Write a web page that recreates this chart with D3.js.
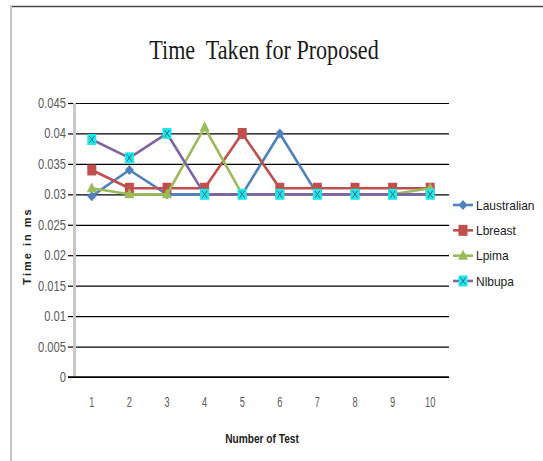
<!DOCTYPE html>
<html>
<head>
<meta charset="utf-8">
<script src="https://cdn.jsdelivr.net/npm/d3@7"></script>
<style>
  html, body { margin: 0; padding: 0; background: #fff; }
  svg { display: block; }
  text { white-space: pre; }
</style>
</head>
<body>
<svg id="chart" width="543" height="461"></svg>
<script>
// Test numbers along the x axis
const tests = [1, 2, 3, 4, 5, 6, 7, 8, 9, 10];

// Time taken (ms) per dataset
const laustralian = [0.0297, 0.034, 0.03, 0.03, 0.03, 0.04, 0.03, 0.03, 0.03, 0.03];
const lbreast     = [0.034, 0.031, 0.031, 0.031, 0.04, 0.031, 0.031, 0.031, 0.031, 0.031];
const lpima       = [0.031, 0.03, 0.03, 0.041, 0.03, 0.03, 0.03, 0.03, 0.03, 0.031];
const nlbupa      = [0.039, 0.036, 0.04, 0.03, 0.03, 0.03, 0.03, 0.03, 0.03, 0.03];

const seriesNames = ["Laustralian", "Lbreast", "Lpima", "Nlbupa"];
const yTicks = [0, 0.005, 0.01, 0.015, 0.02, 0.025, 0.03, 0.035, 0.04, 0.045];
const yTickLabels = ["0", "0.005", "0.01", "0.015", "0.02", "0.025", "0.03", "0.035", "0.04", "0.045"];

const series = [
  { name: seriesNames[0], values: laustralian, line: "#4F81BD", marker: "diamond" },
  { name: seriesNames[1], values: lbreast,     line: "#C0504D", marker: "square" },
  { name: seriesNames[2], values: lpima,       line: "#9BBB59", marker: "triangle" },
  { name: seriesNames[3], values: nlbupa,      line: "#8064A2", marker: "xbox" }
];

const svg = d3.select("#chart");

// outer frame edges
svg.append("line").attr("x1", 10).attr("x2", 543).attr("y1", 6.5).attr("y2", 6.5)
  .attr("stroke", "#4a4a4a").attr("stroke-width", 1.5);
svg.append("line").attr("x1", 11).attr("x2", 11).attr("y1", 6).attr("y2", 461)
  .attr("stroke", "#c4c4c4").attr("stroke-width", 2);

const plot = { left: 73, right: 449, top: 103, bottom: 377 };

const x = d3.scaleBand().domain(tests).range([plot.left, plot.right]);
const cx = d => x(d) + x.bandwidth() / 2;
const y = d3.scaleLinear().domain([0, 0.045]).range([plot.bottom, plot.top]);

// narrow the glyphs horizontally
function squeeze(sel, f) {
  sel.each(function () {
    const len = this.getComputedTextLength();
    if (len > 0) {
      d3.select(this).attr("textLength", len * f).attr("lengthAdjust", "spacingAndGlyphs");
    }
  });
}

// gridlines + y ticks
const yAxis = d3.axisLeft(y)
  .tickValues(yTicks)
  .tickFormat((d, i) => yTickLabels[i])
  .tickSize(-(plot.right - plot.left))
  .tickPadding(7);
const gy = svg.append("g").attr("transform", `translate(${plot.left},0)`).call(yAxis);
gy.select(".domain").remove();
gy.selectAll(".tick line").attr("stroke", "#000").attr("stroke-width", 1.2);
// short outer tick marks
gy.selectAll(".tick").append("line")
  .attr("x1", -5).attr("x2", 0).attr("stroke", "#000").attr("stroke-width", 1.2);
gy.selectAll(".tick text")
  .attr("font-family", "'Liberation Sans', Arial, sans-serif")
  .attr("font-size", 14)
  .attr("fill", "#5a5a5a")
  .call(squeeze, 0.8);

// vertical axis bar
svg.append("line")
  .attr("x1", plot.left + 1.5).attr("x2", plot.left + 1.5)
  .attr("y1", y(0.045)).attr("y2", y(0) - 0.5)
  .attr("stroke", "#c8c8c8").attr("stroke-width", 3);

// x axis
const xAxis = d3.axisBottom(x).tickSize(0).tickPadding(20);
const gx = svg.append("g").attr("transform", `translate(0,${plot.bottom})`).call(xAxis);
gx.select(".domain").attr("stroke", "#000").attr("stroke-width", 1.5)
  .attr("d", `M${plot.left - 5},0H${plot.right}`);
gx.selectAll(".tick text")
  .attr("font-family", "'Liberation Sans', Arial, sans-serif")
  .attr("font-size", 14)
  .attr("fill", "#5a5a5a")
  .call(squeeze, 0.66);

// marker shapes
function drawMarker(g, type, color, px, py) {
  if (type === "diamond") {
    g.append("path")
      .attr("d", `M${px},${py - 5}L${px + 4.5},${py}L${px},${py + 5}L${px - 4.5},${py}Z`)
      .attr("fill", "#4F81BD");
  } else if (type === "square") {
    g.append("rect").attr("x", px - 4.5).attr("y", py - 5.5).attr("width", 9).attr("height", 11)
      .attr("fill", "#C0504D");
  } else if (type === "triangle") {
    g.append("path")
      .attr("d", `M${px},${py - 6}L${px + 5},${py + 4}L${px - 5},${py + 4}Z`)
      .attr("fill", "#9BBB59");
  } else {
    g.append("rect").attr("x", px - 4.5).attr("y", py - 5.5).attr("width", 9).attr("height", 11)
      .attr("fill", "#1de9e9");
    g.append("path")
      .attr("d", `M${px - 2.5},${py - 3.5}L${px + 2.5},${py + 3.5}M${px + 2.5},${py - 3.5}L${px - 2.5},${py + 3.5}`)
      .attr("stroke", "#3a5a80").attr("stroke-width", 0.9).attr("fill", "none");
  }
}

const line = d3.line().x((d, i) => cx(tests[i])).y(d => y(d));

series.forEach(s => {
  const g = svg.append("g");
  g.append("path")
    .attr("d", line(s.values))
    .attr("fill", "none")
    .attr("stroke", s.line)
    .attr("stroke-width", 2.6)
    .attr("stroke-linejoin", "round");
  s.values.forEach((v, i) => drawMarker(g, s.marker, s.line, cx(tests[i]), y(v)));
});

// title
svg.append("text")
  .attr("x", 264).attr("y", 59)
  .attr("text-anchor", "middle")
  .attr("font-family", "'Liberation Serif', 'DejaVu Serif', serif")
  .attr("font-size", 28)
  .attr("fill", "#1a1a1a")
  .text("Time  Taken for Proposed")
  .call(squeeze, 0.79);

// axis titles
svg.append("text")
  .attr("x", 262).attr("y", 443)
  .attr("text-anchor", "middle")
  .attr("font-family", "'Liberation Sans', Arial, sans-serif")
  .attr("font-weight", "bold")
  .attr("font-size", 13)
  .attr("fill", "#222")
  .text("Number of Test")
  .call(squeeze, 0.78);

svg.append("text")
  .attr("transform", "translate(31,246) rotate(-90)")
  .attr("text-anchor", "middle")
  .attr("font-family", "'Liberation Sans', Arial, sans-serif")
  .attr("font-weight", "bold")
  .attr("font-size", 11)
  .attr("letter-spacing", 2)
  .attr("fill", "#222")
  .text("Time in ms");

// legend
const legendY = d3.scalePoint().domain(seriesNames).range([205, 281]);
series.forEach(s => {
  const g = svg.append("g");
  const ly = legendY(s.name);
  g.append("line").attr("x1", 453).attr("x2", 473).attr("y1", ly).attr("y2", ly)
    .attr("stroke", s.line).attr("stroke-width", 2.6);
  drawMarker(g, s.marker, s.line, 463, ly);
  g.append("text")
    .attr("x", 476).attr("y", ly + 4.5)
    .attr("font-family", "'Liberation Sans', Arial, sans-serif")
    .attr("font-size", 13)
    .attr("fill", "#222")
    .text(s.name)
    .call(squeeze, 0.92);
});
</script>
</body>
</html>
